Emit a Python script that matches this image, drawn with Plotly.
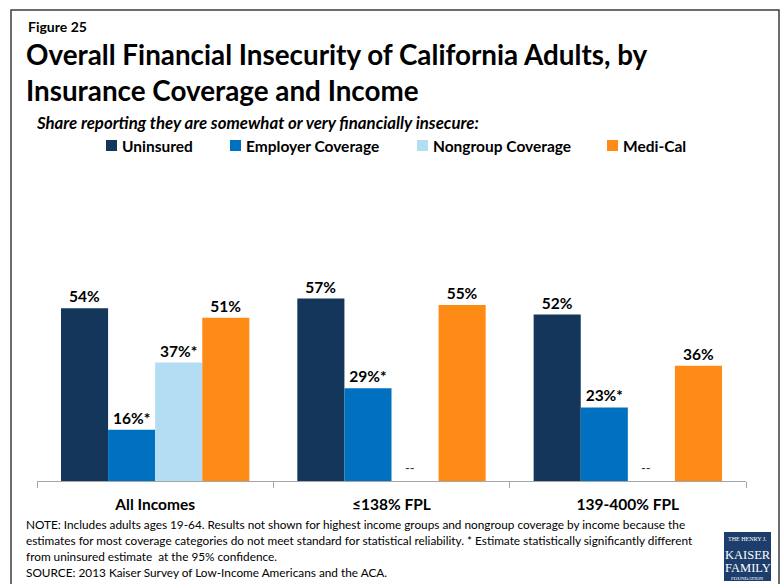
import plotly.graph_objects as go

# ---- data -------------------------------------------------------------
categories = ["All Incomes", "≤138% FPL", "139-400% FPL"]
series_names = ["Uninsured", "Employer Coverage", "Nongroup Coverage", "Medi-Cal"]
uninsured = [54, 57, 52]
employer = [16, 29, 23]
nongroup = [37, None, None]          # not reported by income (too few cases)
medi_cal = [51, 55, 36]
# estimate statistically different from the uninsured estimate
uninsured_sig = [False, False, False]
employer_sig = [True, True, True]
nongroup_sig = [True, False, False]
medi_cal_sig = [False, False, False]

notes = [
    "NOTE: Includes adults ages 19-64. Results not shown for highest income groups and nongroup coverage by income because the",
    "estimates for most coverage categories do not meet standard for statistical reliability. * Estimate statistically significantly different",
    "from uninsured estimate  at the 95% confidence.",
    "SOURCE: 2013 Kaiser Survey of Low-Income Americans and the ACA.",
]

# ---- styling ----------------------------------------------------------
W, H = 781, 584
colors = ["#14365A", "#0070C0", "#B3DDF2", "#FF8B17"]
FONT = "Lato, 'Open Sans', sans-serif"
SERIF = "'Liberation Serif', 'DejaVu Serif', serif"
BARGAP = 0.203

# plot area in pixels
PL, PR, PT, PB = 37, 746, 225, 481


def px_x(x):
    return (x - PL) / (PR - PL)


def px_y(y):
    return (PB - y) / (PB - PT)


def label(v, sig):
    if v is None:
        return ""
    return f"{v}%" + ("*" if sig else "")


series_values = [uninsured, employer, nongroup, medi_cal]
series_sig = [uninsured_sig, employer_sig, nongroup_sig, medi_cal_sig]

fig = go.Figure()
for name, vals, sigs, col in zip(series_names, series_values, series_sig, colors):
    fig.add_trace(go.Bar(
        name=name,
        x=categories,
        y=vals,
        marker=dict(color=col, line=dict(width=0)),
        text=[label(v, s) for v, s in zip(vals, sigs)],
        textposition="outside",
        textfont=dict(family=FONT, size=15.5, color="#000000", weight="bold"),
        constraintext="none",
        cliponaxis=False,
        showlegend=False,
        hoverinfo="skip",
    ))

annotations = []


def ann(text, x, y, size, weight="normal", style="normal", color="#000000",
        family=FONT, xanchor="left", yanchor="middle"):
    annotations.append(dict(
        text=text, xref="paper", yref="paper", x=px_x(x), y=px_y(y),
        showarrow=False, xanchor=xanchor, yanchor=yanchor,
        font=dict(family=family, size=size, color=color, weight=weight, style=style),
    ))


# header
ann("Figure 25", 26, 26, 14, weight="bold")
ann("Overall Financial Insecurity of California Adults, by", 24, 54, 27.8, weight="bold")
ann("Insurance Coverage and Income", 24, 90, 27.8, weight="bold")
ann("Share reporting they are somewhat or very financially insecure:", 34, 122, 16.8,
    weight="bold", style="italic")

# legend: square + label for each series
legend_x = [106, 230, 417, 607]
shapes = []
for name, col, lx in zip(series_names, colors, legend_x):
    shapes.append(dict(type="rect", xref="paper", yref="paper",
                       x0=px_x(lx), x1=px_x(lx + 11), y0=px_y(151), y1=px_y(140),
                       fillcolor=col, line=dict(width=0)))
    ann(name, lx + 14, 146, 15.5, weight="bold")

# "--" where the nongroup estimate is not shown
bar_w = (1 - BARGAP) / len(series_names)
for i, v in enumerate(nongroup):
    if v is None:
        annotations.append(dict(
            text="--", xref="x", yref="y", x=i + (2 - 1.5) * bar_w, y=0,
            yanchor="bottom", showarrow=False, yshift=3, xshift=-5,
            font=dict(family=FONT, size=13, color="#333333"),
        ))

# notes
for k, line in enumerate(notes):
    ann(line, 24, 524 + 16 * k, 11.8)

# outer frame
shapes.append(dict(type="rect", xref="paper", yref="paper",
                   x0=px_x(11), x1=px_x(779), y0=px_y(592), y1=px_y(10),
                   line=dict(color="#3C3C3C", width=1.5), fillcolor="rgba(0,0,0,0)"))

# foundation logo
shapes.append(dict(type="rect", xref="paper", yref="paper",
                   x0=px_x(724), x1=px_x(771), y0=px_y(581), y1=px_y(532),
                   fillcolor="#1D3E6C", line=dict(width=0)))
ann("THE HENRY J.", 747.5, 539, 6, color="#FFFFFF", family=SERIF, xanchor="center")
ann("KAISER", 747.5, 555, 12.5, color="#FFFFFF", family=SERIF, xanchor="center")
ann("FAMILY", 747.5, 568, 12.5, color="#FFFFFF", family=SERIF, xanchor="center")
ann("FOUNDATION", 747.5, 578, 5, color="#FFFFFF", family=SERIF, xanchor="center")

fig.update_layout(
    width=W, height=H, autosize=False,
    margin=dict(l=PL, r=W - PR, t=PT, b=H - PB, pad=0),
    paper_bgcolor="#FFFFFF", plot_bgcolor="#FFFFFF",
    barmode="group", bargap=BARGAP, bargroupgap=0,
    showlegend=False,
    annotations=annotations,
    shapes=shapes,
    xaxis=dict(
        type="category", range=[-0.5, 2.5],
        showline=True, linecolor="#A6A6A6", linewidth=1,
        ticks="outside", tickson="boundaries", ticklen=6, tickcolor="#A6A6A6",
        ticklabelstandoff=9,
        tickfont=dict(family=FONT, size=15.5, color="#000000", weight="bold"),
        showgrid=False, zeroline=False, fixedrange=True,
    ),
    yaxis=dict(range=[0, 80], visible=False, showgrid=False, zeroline=False,
               fixedrange=True),
)

fig.write_html("out.html")
